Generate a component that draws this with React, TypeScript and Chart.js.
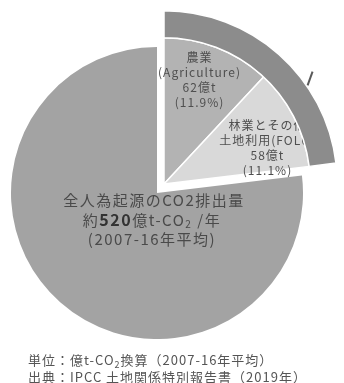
import React, { useEffect, useRef } from "react";
import { Chart, registerables } from "chart.js";

Chart.register(...registerables);

// ---- data ----
const ringLabels = ["AFOLU（農業・林業その他土地利用）", "その他"];
const ringValues = [120, 400]; // 億t-CO2
const sliceLabels = ["農業", "林業とその他土地利用", "その他"];
const sliceValues = [62, 58, 400]; // 億t-CO2

const agricultureText = ["農業", "(Agriculture)", "62億t", "(11.9%)"];
const foluText = ["林業とその他", "土地利用(FOLU)", "58億t", "(11.1%)"];
const mainTitle = "全人為起源のCO2排出量";
const mainTotal = "520";
const mainPeriod = "(2007-16年平均)";
const footnoteUnit = ["単位：億t-CO", "2", "換算（2007-16年平均）"];
const footnoteSource = "出典：IPCC 土地関係特別報告書（2019年）";

const FONT = '"Noto Sans CJK JP", "Noto Sans", sans-serif';

const mainLabelPlugin = {
  id: "mainLabel",
  afterDraw(chart: any) {
    const el = chart.getDatasetMeta(0).data[1];
    if (!el) return;
    const ctx = chart.ctx;
    const cx = el.x - 3;
    const cy = el.y;
    ctx.save();
    ctx.fillStyle = "#4a4a4a";
    ctx.textBaseline = "middle";
    ctx.textAlign = "center";
    (ctx as any).letterSpacing = "1.5px";
    ctx.font = `15px ${FONT}`;
    ctx.fillText(mainTitle, cx, cy + 7);
    ctx.fillText(mainPeriod, cx - 2, cy + 46);
    const parts: [string, string, number][] = [
      ["約", `15px ${FONT}`, 0],
      [mainTotal, `bold 16px ${FONT}`, 0],
      ["億t-CO", `15px ${FONT}`, 0],
      ["2", `10px ${FONT}`, 4],
      [" /年", `15px ${FONT}`, 0],
    ];
    let total = 0;
    for (const p of parts) {
      ctx.font = p[1];
      total += ctx.measureText(p[0]).width;
    }
    let x = cx - 2 - total / 2;
    ctx.textAlign = "left";
    for (const p of parts) {
      ctx.font = p[1];
      ctx.fillStyle = p[0] === mainTotal ? "#333" : "#4a4a4a";
      ctx.fillText(p[0], x, cy + 27 + p[2]);
      x += ctx.measureText(p[0]).width;
    }
    ctx.restore();
  },
};

const sliceLabelPlugin = {
  id: "sliceLabels",
  afterDatasetDraw(chart: any, args: any) {
    if (args.index !== 1) return;
    const meta = chart.getDatasetMeta(1);
    const ctx = chart.ctx;
    const texts = [agricultureText, foluText];
    const fracs = [0.44, 0.69];
    ctx.save();
    ctx.fillStyle = "#4f4f4f";
    ctx.textAlign = "center";
    ctx.textBaseline = "middle";
    (ctx as any).letterSpacing = "1px";
    ctx.font = `12px ${FONT}`;
    for (let i = 0; i < 2; i++) {
      const el = meta.data[i];
      const a = el.startAngle + (el.endAngle - el.startAngle) * fracs[i];
      const r = el.outerRadius * 0.75;
      const x = el.x + Math.cos(a) * r;
      const y = el.y + Math.sin(a) * r;
      const lines = texts[i];
      const lh = 15;
      lines.forEach((t, k) => {
        ctx.fillText(t, x, y + (k - (lines.length - 1) / 2) * lh);
      });
    }
    ctx.restore();
  },
  afterDraw(chart: any) {
    const el = chart.getDatasetMeta(0).data[0];
    if (!el) return;
    const ctx = chart.ctx;
    const top = -Math.PI / 2;
    const a1 = top + (55.5 * Math.PI) / 180;
    const a2 = top + (52.9 * Math.PI) / 180;
    const r1 = el.outerRadius + 1;
    const r2 = el.outerRadius + 13;
    ctx.save();
    ctx.strokeStyle = "#5a5a5a";
    ctx.lineWidth = 2;
    ctx.beginPath();
    ctx.moveTo(el.x + Math.cos(a1) * r1, el.y + Math.sin(a1) * r1);
    ctx.lineTo(el.x + Math.cos(a2) * r2, el.y + Math.sin(a2) * r2);
    ctx.stroke();
    ctx.restore();
  },
};

export default function App() {
  const mainRef = useRef<HTMLCanvasElement>(null);
  const explRef = useRef<HTMLCanvasElement>(null);

  useEffect(() => {
    const common = {
      responsive: false,
      animation: false as const,
      events: [] as any[],
      layout: { padding: 0 },
      plugins: { legend: { display: false }, tooltip: { enabled: false } },
    };
    const main = new Chart(mainRef.current!, {
      type: "pie",
      data: {
        labels: ringLabels,
        datasets: [
          {
            data: ringValues,
            backgroundColor: ["rgba(0,0,0,0)", "#a3a3a3"],
            borderWidth: 0,
          },
        ],
      },
      options: common as any,
      plugins: [mainLabelPlugin],
    });
    const expl = new Chart(explRef.current!, {
      type: "pie",
      data: {
        labels: sliceLabels,
        datasets: [
          {
            label: "AFOLU",
            data: ringValues,
            backgroundColor: ["#8c8c8c", "rgba(0,0,0,0)"],
            borderColor: "#ffffff",
            borderWidth: [1.5, 0],
            weight: 27,
          } as any,
          {
            label: "内訳",
            data: sliceValues,
            backgroundColor: ["#b3b3b3", "#d9d9d9", "rgba(0,0,0,0)"],
            borderColor: "#ffffff",
            borderWidth: [1.5, 1.5, 0],
            weight: 146,
          } as any,
        ],
      },
      options: common as any,
      plugins: [sliceLabelPlugin],
    });
    return () => {
      main.destroy();
      expl.destroy();
    };
  }, []);

  return (
    <div
      style={{
        position: "absolute",
        left: 0,
        top: 0,
        width: 344,
        height: 383,
        overflow: "hidden",
        background: "#fff",
      }}
    >
      <canvas
        ref={mainRef}
        width={292}
        height={292}
        style={{ position: "absolute", left: 11, top: 47, width: 292, height: 292 }}
      />
      <canvas
        ref={explRef}
        width={348}
        height={348}
        style={{ position: "absolute", left: -10, top: 10, width: 348, height: 348 }}
      />
      <div
        style={{
          position: "absolute",
          left: 28,
          top: 352,
          fontFamily: FONT,
          fontSize: 13,
          lineHeight: "15px",
          letterSpacing: "1px",
          color: "#555",
          whiteSpace: "nowrap",
        }}
      >
        <div>
          {footnoteUnit[0]}
          <span style={{ fontSize: 9, position: "relative", top: 3 }}>{footnoteUnit[1]}</span>
          {footnoteUnit[2]}
        </div>
        <div>{footnoteSource}</div>
      </div>
    </div>
  );
}
